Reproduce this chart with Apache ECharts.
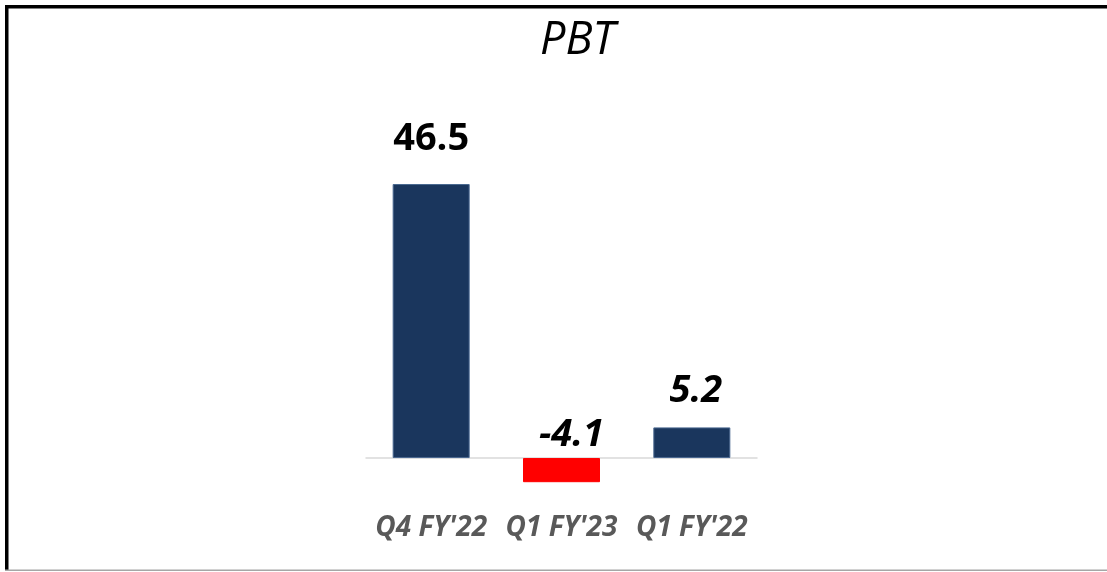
<!DOCTYPE html>
<html>
<head>
<meta charset="utf-8">
<script src="https://cdn.jsdelivr.net/npm/echarts@6/dist/echarts.min.js"></script>
<style>
html,body{margin:0;padding:0;background:#fff;}
#chart{width:1107px;height:572px;}
</style>
</head>
<body>
<div id="chart"></div>
<script>
const categories = ["Q4 FY'22", "Q1 FY'23", "Q1 FY'22"];
const values = [46.5, -4.1, 5.2];
const barColors = ['#1a365d', '#ff0000', '#1a365d'];
const labelItalic = [false, true, true];
const labelDistance = [26, 4, 17];
const labelOffsetX = [0, 10, 4];
const titleText = 'PBT';

const chart = echarts.init(document.getElementById('chart'));
const FONT = '"Open Sans", "Liberation Sans", sans-serif';

const data = values.map((v, i) => ({
  value: v,
  itemStyle: {
    color: barColors[i],
    borderColor: i === 1 ? '#ff0000' : '#4a6890',
    borderWidth: 1
  },
  label: {
    fontStyle: labelItalic[i] ? 'italic' : 'normal',
    distance: labelDistance[i],
    offset: [labelOffsetX[i], 0]
  }
}));

chart.setOption({
  animation: false,
  backgroundColor: '#fff',
  title: {
    text: titleText,
    left: 535,
    top: 14,
    textStyle: {
      fontFamily: FONT,
      fontStyle: 'italic',
      fontWeight: 'normal',
      fontSize: 45,
      color: '#000'
    }
  },
  graphic: [
    { type: 'rect', shape: { x: 5, y: 5, width: 1102, height: 3.5 }, style: { fill: '#000' }, z: 100 },
    { type: 'rect', shape: { x: 5, y: 5, width: 3.5, height: 566 }, style: { fill: '#000' }, z: 100 },
    { type: 'rect', shape: { x: 5, y: 569.5, width: 1102, height: 1.5 }, style: { fill: '#a6a6a6' }, z: 100 }
  ],
  grid: {
    left: 366,
    right: 350,
    top: 163.4,
    bottom: 84.5,
    containLabel: false
  },
  xAxis: {
    type: 'category',
    data: categories,
    axisLine: { show: true, onZero: true, lineStyle: { color: '#d9d9d9', width: 1.5 } },
    axisTick: { show: false },
    axisLabel: {
      interval: 0,
      hideOverlap: false,
      margin: 27,
      fontFamily: FONT,
      fontStyle: 'italic',
      fontWeight: 'bold',
      fontSize: 28,
      color: '#595959'
    },
    splitLine: { show: false }
  },
  yAxis: {
    type: 'value',
    min: -5,
    max: 50,
    show: false,
    splitLine: { show: false }
  },
  series: [{
    type: 'bar',
    data: data,
    barWidth: 77,
    label: {
      show: true,
      position: 'top',
      fontFamily: FONT,
      fontWeight: 'bold',
      fontSize: 38,
      color: '#000'
    }
  }]
});
</script>
</body>
</html>
